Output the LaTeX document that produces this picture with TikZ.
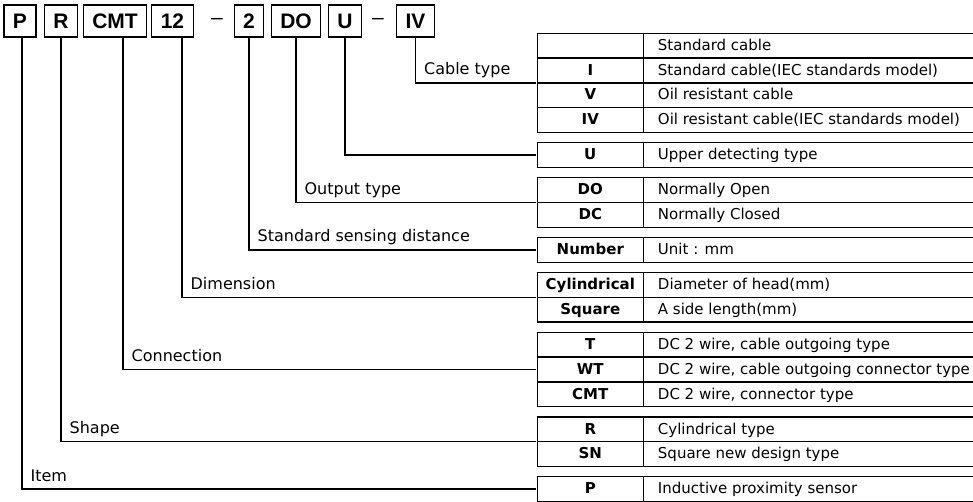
\documentclass[tikz,border=0pt]{standalone}
\usepackage{fontspec}
\setmainfont{DejaVu Sans}
\newfontfamily\codefont{Liberation Sans}
\usepackage{array}
\usetikzlibrary{positioning}
\setlength{\arrayrulewidth}{1.3pt}
\newcolumntype{K}{|@{}>{\centering\arraybackslash}p{104.7pt}@{}|}
\newcolumntype{D}{@{\hspace{14pt}}p{317pt}@{}}

\begin{document}
\begin{tikzpicture}[x=1pt, y=-1pt, line width=1.3pt,
		codebox/.style={draw, inner xsep=9pt, minimum height=32pt, font=\codefont\bfseries\fontsize{21}{21}\selectfont},
		codetable/.style={inner sep=0pt, font=\fontsize{15}{18}\selectfont},
		lbl/.style={anchor=base west, inner sep=0pt, xshift=8pt, yshift=8pt, font=\fontsize{16}{16}\selectfont}]
	\useasboundingbox (0,0) rectangle (973,502);
	\def\arraystretch{1.3056}
	\node (p) [codebox] at (20,21) {P};
	\node (r) [codebox] at (61,21) {R};
	\node (cmt) [codebox] at (115,21) {CMT};
	\node (twelve) [codebox] at (172.5,21) {12};
	\node (dasha) [font=\codefont\fontsize{21}{21}\selectfont] at (217,21) {–};
	\node (two) [codebox] at (249,21) {2};
	\node (do) [codebox] at (296,21) {DO};
	\node (u) [codebox] at (345,21) {U};
	\node (dashb) [font=\codefont\fontsize{21}{21}\selectfont] at (378,21) {–};
	\node (iv) [codebox] at (415.5,21) {IV};
	\node (tcable) [codetable, anchor=north west] at (536,32) {
		\begin{tabular}{KD}
			\hline
			 & Standard cable \\ \hline
			\textbf{I} & Standard cable(IEC standards model) \\ \hline
			\textbf{V} & Oil resistant cable \\ \hline
			\textbf{IV} & Oil resistant cable(IEC standards model) \\ \hline
		\end{tabular}
	};
	\node (tupper) [codetable, below right=7.6pt and 0pt of tcable.south west] {
		\begin{tabular}{KD}
			\hline
			\textbf{U} & Upper detecting type \\ \hline
		\end{tabular}
	};
	\node (toutput) [codetable, below right=7.6pt and 0pt of tupper.south west] {
		\begin{tabular}{KD}
			\hline
			\textbf{DO} & Normally Open \\ \hline
			\textbf{DC} & Normally Closed \\ \hline
		\end{tabular}
	};
	\node (tdistance) [codetable, below right=7.6pt and 0pt of toutput.south west] {
		\begin{tabular}{KD}
			\hline
			\textbf{Number} & Unit : mm \\ \hline
		\end{tabular}
	};
	\node (tdimension) [codetable, below right=7.6pt and 0pt of tdistance.south west] {
		\begin{tabular}{KD}
			\hline
			\textbf{Cylindrical} & Diameter of head(mm) \\ \hline
			\textbf{Square} & A side length(mm) \\ \hline
		\end{tabular}
	};
	\node (tconnection) [codetable, below right=7.6pt and 0pt of tdimension.south west] {
		\begin{tabular}{KD}
			\hline
			\textbf{T} & DC 2 wire, cable outgoing type \\ \hline
			\textbf{WT} & DC 2 wire, cable outgoing connector type \\ \hline
			\textbf{CMT} & DC 2 wire, connector type \\ \hline
		\end{tabular}
	};
	\node (tshape) [codetable, below right=7.6pt and 0pt of tconnection.south west] {
		\begin{tabular}{KD}
			\hline
			\textbf{R} & Cylindrical type \\ \hline
			\textbf{SN} & Square new design type \\ \hline
		\end{tabular}
	};
	\node (titem) [codetable, below right=7.6pt and 0pt of tshape.south west] {
		\begin{tabular}{KD}
			\hline
			\textbf{P} & Inductive proximity sensor \\ \hline
		\end{tabular}
	};
	\draw (iv.south) |- (tcable.west) node [lbl, pos=.5] {Cable type};
	\draw (u.south) |- (tupper.west);
	\draw (do.south) |- (toutput.west) node [lbl, pos=.5] {Output type};
	\draw (two.south) |- (tdistance.west) node [lbl, pos=.5] {Standard sensing distance};
	\draw ([xshift=9.5pt]twelve.south) |- (tdimension.west) node [lbl, pos=.5] {Dimension};
	\draw ([xshift=8pt]cmt.south) |- (tconnection.west) node [lbl, pos=.5] {Connection};
	\draw (r.south) |- (tshape.west) node [lbl, pos=.5] {Shape};
	\draw ([xshift=2pt]p.south) |- (titem.west) node [lbl, pos=.5] {Item};
\end{tikzpicture}
\end{document}
